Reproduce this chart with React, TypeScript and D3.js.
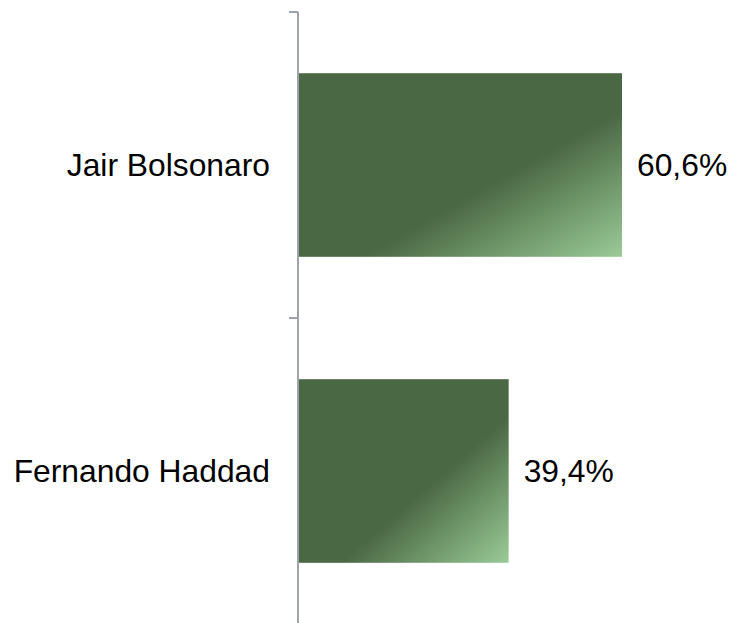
import * as d3 from 'd3'
import React from 'react'

const candidates = ['Jair Bolsonaro', 'Fernando Haddad']
const shares = [60.6, 39.4]
const shareLabels = ['60,6%', '39,4%']

const width = 731
const height = 623
const axisX = 298

export default function App() {
  const y = d3
    .scaleBand<string>()
    .domain(candidates)
    .range([12, 624])
    .paddingInner(0.4)
    .paddingOuter(0.2)

  const x = d3.scaleLinear().domain([0, 60.6]).range([axisX, 622])

  const step = y.step()
  // tick marks sit on the category boundaries
  const boundaries = [
    ...candidates.map((c) => (y(c) ?? 0) - (step * y.paddingInner()) / 2),
    y.range()[1],
  ]

  const font = '"Liberation Sans", Arial, sans-serif'

  return (
    <svg
      width={width}
      height={height}
      style={{ position: 'absolute', left: 0, top: 0, display: 'block' }}
    >
      <defs>
        <linearGradient id="barFill" x1="0" y1="0" x2="1" y2="1">
          <stop offset="0" stopColor="#4a6843" />
          <stop offset="0.6" stopColor="#4a6843" />
          <stop offset="1" stopColor="#9acb97" />
        </linearGradient>
      </defs>

      {candidates.map((c, i) => {
        const top = y(c) ?? 0
        const mid = top + y.bandwidth() / 2
        return (
          <g key={c}>
            <rect
              x={axisX}
              y={top}
              width={x(shares[i]) - axisX}
              height={y.bandwidth()}
              fill="url(#barFill)"
            />
            <text
              x={axisX - 28}
              y={mid}
              dy="0.36em"
              textAnchor="end"
              fontFamily={font}
              fontSize={31.8}
              fill="#000"
            >
              {c}
            </text>
            <text
              x={x(shares[i]) + 15}
              y={mid}
              dy="0.36em"
              fontFamily={font}
              fontSize={31.8}
              fill="#000"
            >
              {shareLabels[i]}
            </text>
          </g>
        )
      })}

      <line
        x1={axisX}
        x2={axisX}
        y1={boundaries[0]}
        y2={boundaries[boundaries.length - 1]}
        stroke="#9ea3aa"
        strokeWidth={2}
      />
      {boundaries.map((b, i) => (
        <line key={i} x1={axisX - 9} x2={axisX} y1={b} y2={b} stroke="#9ea3aa" strokeWidth={2} />
      ))}
    </svg>
  )
}
